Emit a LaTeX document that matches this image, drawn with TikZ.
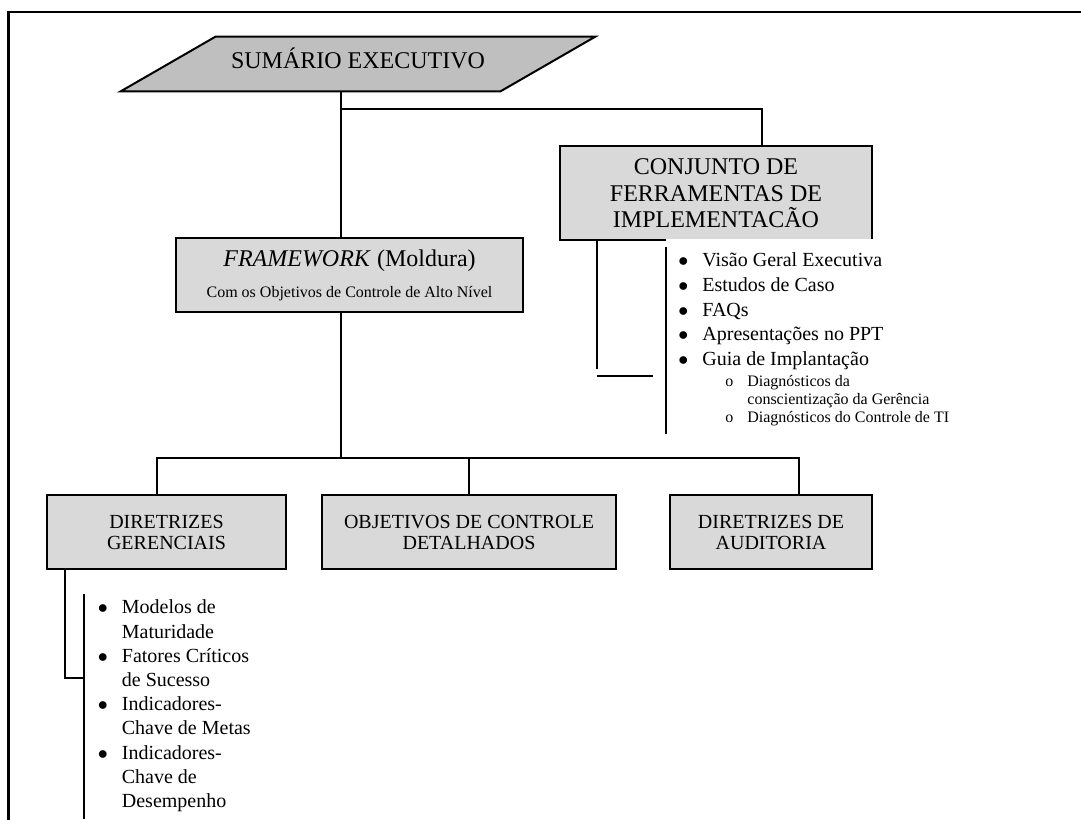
\documentclass[tikz,border=0pt]{standalone}
\usepackage{fontspec}
\setmainfont{Liberation Serif}
\usetikzlibrary{positioning}
\pgfdeclarelayer{background}
\pgfsetlayers{background,main}
\tikzstyle{caixastyle}=[draw=black, line width=1pt, fill=gray!30, align=center, inner sep=0pt, text=black]
\tikzstyle{caixa} = [caixastyle, font=\fontsize{12}{13.25}\selectfont]
\tikzstyle{caixap} = [caixastyle, font=\fontsize{10}{10.5}\selectfont, minimum height=37pt]
\tikzstyle{topo} = [minimum width=189.5pt, minimum height=27pt, inner sep=0pt,
  text height=8pt, text depth=4pt, font=\fontsize{12}{14}\selectfont]
\tikzstyle{lista} = [fill=white, align=left, anchor=north west, inner xsep=0pt, inner ysep=7pt]
\tikzstyle{line} = [draw, line width=1pt, color=black]
\newcommand{\caixa}[3]{node (#1) [caixa, #2] {#3}}
\newcommand{\caixap}[3]{node (#1) [caixap, #2] {#3}}
\newcommand{\bitem}[1]{\makebox[18pt][l]{\hspace{6pt}$\bullet$}#1}
\newcommand{\sitem}[1]{\makebox[40.5pt][l]{\hspace{29.5pt}\fontsize{8}{9}\selectfont o}{\fontsize{8}{9}\selectfont #1}}

\begin{document}
\begin{tikzpicture}[x=0.5pt, y=-0.5pt]
\useasboundingbox (0,0) rectangle (1081,819);
% outer frame
\begin{scope}
  \clip (0,0) rectangle (1081,819);
  \path[line, line width=1.2pt] (8.5,12) rectangle (1100,840);
\end{scope}

% Draw diagram elements
\path (358,64) node (sumario) [topo] {SUMÁRIO EXECUTIVO};
\path (349.5,275) \caixa{framework}{minimum width=173.5pt, minimum height=37pt, font=\fontsize{12}{15.5}\selectfont}
  {\textit{FRAMEWORK} (Moldura)\\{\fontsize{8}{9}\selectfont Com os Objetivos de Controle de Alto Nível}};
\path (sumario.south) + (358,102) \caixa{conjunto}{minimum width=156pt, minimum height=47pt}
  {CONJUNTO DE\\FERRAMENTAS DE\\IMPLEMENTACÃO};
\path (framework.south) + (-183,219) \caixap{gerenciais}{minimum width=119.5pt}{DIRETRIZES\\GERENCIAIS};
\path (framework.south) + (119.5,219) \caixap{objetivos}{minimum width=147pt}{OBJETIVOS DE CONTROLE\\DETALHADOS};
\path (framework.south) + (421.5,219) \caixap{auditoria}{minimum width=101pt}{DIRETRIZES DE\\AUDITORIA};

% parallelogram behind the title
\begin{pgfonlayer}{background}
  \path[fill=gray!50, draw=black, line width=1pt]
    ([xshift=23.75pt]sumario.north west) -- ([xshift=23.75pt]sumario.north east)
    -- ([xshift=-23.75pt]sumario.south east) -- ([xshift=-23.75pt]sumario.south west) -- cycle;
\end{pgfonlayer}

% Draw lines between elements
\path [line] ([xshift=-8.5pt]sumario.south) -- ([xshift=-4.25pt]framework.north);
\path [line] ([xshift=-8.5pt]sumario.south) ++(0,18) -| ([xshift=23pt]conjunto.north);
\path [line] ([xshift=-4.25pt]framework.south) -- ++(0,145) coordinate (barra);
\path [line] ([xshift=-4.75pt]gerenciais.north) |- (barra) -| ([xshift=14pt]auditoria.north);
\path [line] (objetivos.north) -- (objetivos.north |- barra);

% lists
\path (666,238.3) node (ferramentas) [lista, font=\fontsize{10}{12.4}\selectfont] {%
  \bitem{Visão Geral Executiva}\\
  \bitem{Estudos de Caso}\\
  \bitem{FAQs}\\
  \bitem{Apresentações no PPT}\\
  \bitem{Guia de Implantação}\\[-1.9pt]
  \sitem{Diagnósticos da}\\[-3.4pt]
  \hspace*{40.5pt}{\fontsize{8}{9}\selectfont conscientização da Gerência}\\[-3.4pt]
  \sitem{Diagnósticos do Controle de TI}};
\path (83.5,585.6) node (indicadores) [lista, inner xsep=1pt, font=\fontsize{10}{12.1}\selectfont] {%
  \bitem{Modelos de}\\
  \hspace*{18pt}Maturidade\\
  \bitem{Fatores Críticos}\\
  \hspace*{18pt}de Sucesso\\
  \bitem{Indicadores-}\\
  \hspace*{18pt}Chave de Metas\\
  \bitem{Indicadores-}\\
  \hspace*{18pt}Chave de\\
  \hspace*{18pt}Desempenho};

\coordinate (fa) at (666,247);
\coordinate (fb) at (666,434);
\coordinate (ga) at (83.5,594);
\coordinate (gb) at (83.5,819);
\coordinate (gm) at (83.5,678);
\path [line] (fa) -- (fb);
\path [line] ([xshift=-59.5pt]conjunto.south) -- ++(0,128);
\path [line] ([xshift=-59.5pt]conjunto.south) ++(0,135) -- ++(56,0);
\path [line] (ga) -- (gb);
\path [line] ([xshift=-50.75pt]gerenciais.south) |- (gm);

\end{tikzpicture}
\end{document}
